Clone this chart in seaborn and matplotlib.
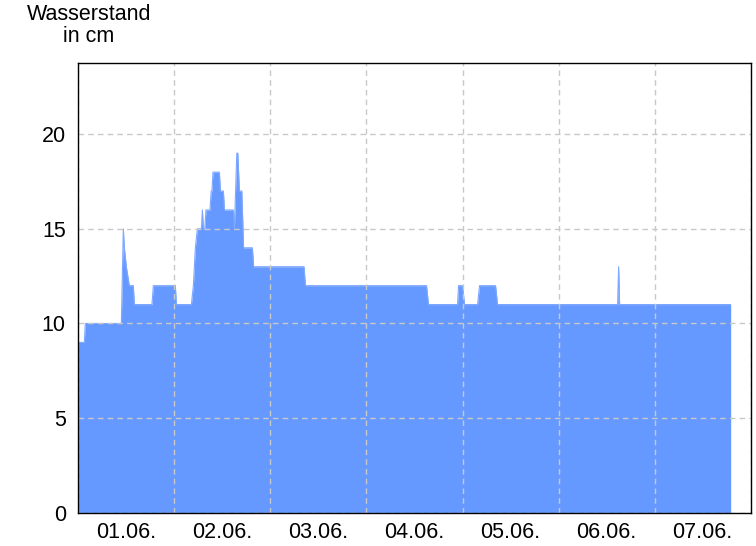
import pandas as pd
import matplotlib
matplotlib.use("Agg")
import matplotlib.pyplot as plt
import matplotlib.dates as mdates
import seaborn as sns

# === Data: water level in cm, vertices (hours after 01.06. 00:00) ===
start = pd.Timestamp("2024-06-01 00:00")
hours = [0, 1.5, 1.75, 10.75, 11.25, 11.5, 12.0, 12.75, 13.75, 14.0,
         18.4, 18.75, 24.25, 24.5, 28.25, 28.75, 29.25, 29.75, 30.75, 31.0,
         31.25, 31.6, 31.9, 32.9, 33.2, 33.4, 33.65, 35.25, 35.5, 36.25,
         36.5, 38.75, 39.0, 39.6, 39.85, 40.25, 40.85, 41.3, 43.5, 43.8,
         56.4, 56.75, 87.0, 87.5, 94.75, 95.0, 96.0, 96.5, 99.75, 100.25,
         104.25, 104.75, 134.75, 135.0, 135.25, 163.0]
level_cm = [9, 9, 10, 10, 15, 14, 13, 12, 12, 11,
            11, 12, 12, 11, 11, 12, 14, 15, 15, 16,
            15, 15, 16, 16, 17, 17, 18, 18, 17, 17,
            16, 16, 15, 19, 19, 17, 17, 14, 14, 13,
            13, 12, 12, 11, 11, 12, 12, 11, 11, 12,
            12, 11, 11, 13, 11, 11]
y_ticks = [0, 5, 10, 15, 20]
title = "Wasserstand\nin cm"

fill_color = "#6699ff"
grid_color = "#c8c8c8"

df = pd.DataFrame({"time": start + pd.to_timedelta(hours, unit="h"),
                   "level": level_cm})

# === Plot ===
sns.set_theme(style="white")
plt.rcParams["font.family"] = ["Liberation Sans", "DejaVu Sans"]
plt.rcParams["text.color"] = "black"
plt.rcParams["xtick.color"] = "black"
plt.rcParams["ytick.color"] = "black"

fig = plt.figure(figsize=(7.56, 5.46), dpi=100)
ax = fig.add_axes([78.3 / 756, 33.3 / 546, 672.4 / 756, 449.4 / 546])

ax.fill_between(df["time"], 0, df["level"], color=fill_color, lw=0, zorder=1)
sns.lineplot(data=df, x="time", y="level", color="#7ea8ff", lw=0.8, ax=ax, zorder=2)

ax.set_xlim(start, start + pd.Timedelta(days=7))
ax.set_ylim(0, 23.75)
ax.set_yticks(y_ticks)
ax.set_xlabel("")
ax.set_ylabel("")

ax.xaxis.set_major_locator(mdates.DayLocator())
ax.xaxis.set_major_formatter(plt.NullFormatter())
ax.xaxis.set_minor_locator(mdates.HourLocator(byhour=[12]))
ax.xaxis.set_minor_formatter(mdates.DateFormatter("%d.%m."))

ax.tick_params(axis="x", which="major", length=3, width=1, color="black", direction="out")
ax.tick_params(axis="x", which="minor", length=0, pad=7, labelsize=15.5,
               labelcolor="black")
ax.tick_params(axis="y", length=4, width=1, color="black", direction="out",
               pad=5, labelsize=15.5, labelcolor="black")

ax.grid(True, which="major", color=grid_color, linestyle=(0, (4, 3)), lw=1)
ax.set_axisbelow(False)
for spine in ax.spines.values():
    spine.set_color("black")
    spine.set_linewidth(1)
    spine.set_zorder(5)

fig.text(89 / 756, 1 - 4 / 546, title, ha="center", va="top", color="black",
         fontsize=15.5, linespacing=1.05, multialignment="center")

fig.savefig("out.png", dpi=100)
